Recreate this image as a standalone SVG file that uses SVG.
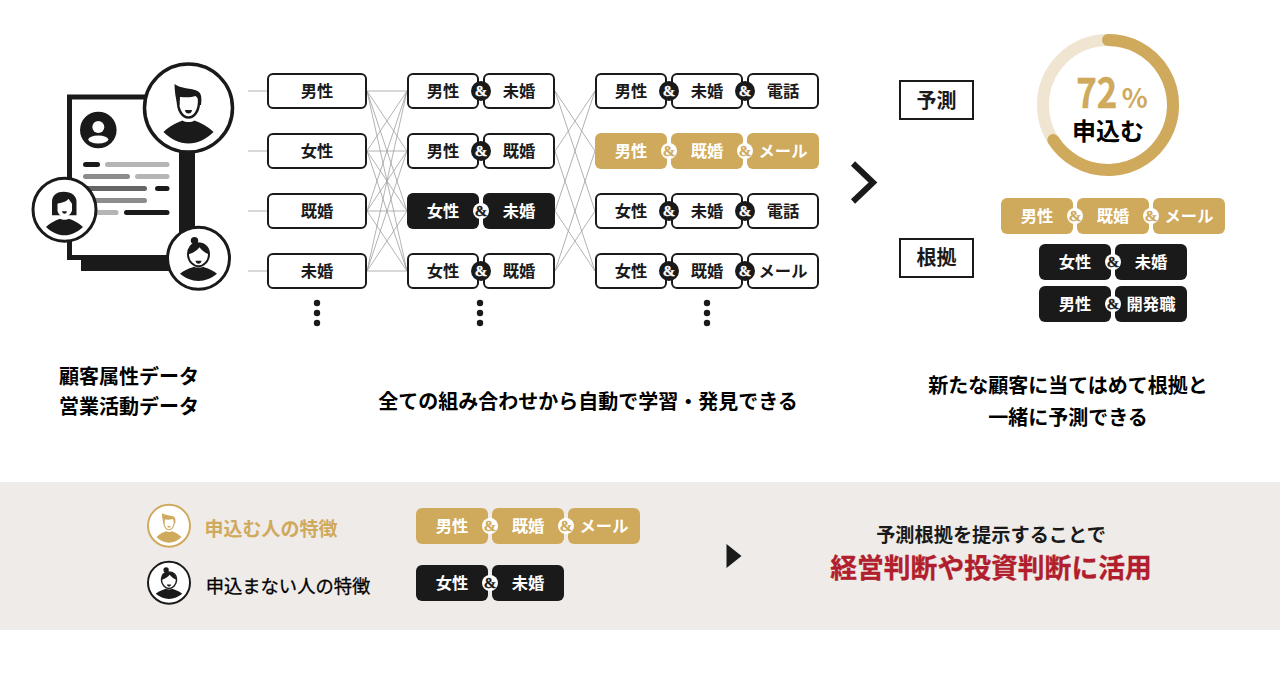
<svg xmlns="http://www.w3.org/2000/svg" width="1280" height="680" viewBox="0 0 1280 680">
<style>
text{font-family:"Noto Sans CJK JP","Noto Sans",sans-serif;font-weight:700;text-anchor:middle;fill:#1a1a1a}
.o{fill:#fff;stroke:#1a1a1a;stroke-width:2}
.k{fill:#1a1a1a}
.g{fill:#cfa95c}
.c{font-size:16.300px}
.w{fill:#fff}
.bd{fill:#1a1a1a}
.bw{fill:#fff}
.a{font-family:"Liberation Serif",serif;font-weight:700;font-size:15px;stroke-width:.3px;transform:translateY(.5px)}
.a.w{stroke:#fff}
.a.gold-t{stroke:#cfa95c}
.a.d{stroke:#1a1a1a}
.l{font-size:20px;fill:#000}
.lk{stroke:#a0a0a0;stroke-width:.8;fill:none}
.gold-t{fill:#cfa95c}
</style>
<defs>
<path id="body" d="M-25 24C-18 17-10 14-6 12.500C-3 14.500 3 14.500 6 12.500C10 14 18 17 25 24C18 31 9 35.500 0 35.500C-9 35.500-18 31-25 24Z"/>
<g id="man">
<path d="M-10.500-10C-11.500 4-5 9.500 0 9.500C5 9.500 11.500 4 10.500-10" fill="#fff" stroke="currentColor" stroke-width="2.400"/>
<path fill="currentColor" d="M-14-24C-8-19 3-20 9-17C13-15 13.500-10 12.500-3L10.500-3C10.500-8 9-11 7-12C2-10-5-11-8.500-11L-9-3L-11-3C-13-10-14-18-14-24Z"/>
<path fill="currentColor" d="M-3.500 2L3.500 2Q3 5.500 0 5.500Q-3 5.500-3.500 2Z"/>
<use href="#body" fill="currentColor"/>
</g>
<g id="bun">
<circle cx="-4" cy="-17.700" r="3.700" fill="currentColor"/>
<path d="M-10.500-4C-10.500 3-5 8 0 8C5 8 10.500 3 10.500-4C10.500-11 6-15-1-15C-7-15-10.500-10-10.500-4Z" fill="#fff" stroke="currentColor" stroke-width="2"/>
<path fill="currentColor" d="M-10-4C-10-11-6-15-1-15C6-15 10-10 10.500-4C7-5 3-8 1-11C-1-8-6-5-10-4Z"/>
<path fill="currentColor" d="M-3 2.500L3 2.500Q2.500 5.500 0 5.500Q-2.500 5.500-3 2.500Z"/>
<g transform="translate(0 0.600) scale(.74 .62)"><use href="#body" fill="currentColor"/></g>
</g>
</defs>

<rect x="0" y="482" width="1280" height="148" fill="#efebe8"/>

<g id="connectors">
<path class="lk" d="M248 91H267M248 151H267M248 211H267M248 271H267"/>
<path class="lk" d="M367 91L407 91M367 91L407 151M367 91L407 211M367 91L407 271M367 151L407 91M367 151L407 151M367 151L407 211M367 151L407 271M367 211L407 91M367 211L407 151M367 211L407 211M367 211L407 271M367 271L407 91M367 271L407 151M367 271L407 211M367 271L407 271"/>
<path class="lk" d="M555 91L595 151M555 91L595 211M555 151L595 91M555 151L595 271M555 211L595 91M555 211L595 271M555 271L595 151M555 271L595 211"/>
</g>

<g id="document">
<rect x="81" y="110" width="114" height="161" class="k"/>
<rect x="69.500" y="97" width="112" height="160.500" fill="#fff" stroke="#1a1a1a" stroke-width="5"/>
<circle cx="98.300" cy="130" r="18.300" class="k"/>
<circle cx="98.300" cy="127" r="6" fill="#fff"/>
<ellipse cx="98.300" cy="139.500" rx="10" ry="4" fill="#fff"/>
<rect x="83" y="162" width="17" height="5" rx="2.500" class="k"/>
<rect x="105" y="162" width="64.500" height="5" rx="2.500" fill="#b5b5b5"/>
<rect x="83" y="174" width="47" height="5" rx="2.500" fill="#8c8c8c"/>
<rect x="135" y="174" width="34.500" height="5" rx="2.500" fill="#b5b5b5"/>
<rect x="83" y="186" width="64" height="5" rx="2.500" fill="#666"/>
<rect x="155" y="186" width="14.500" height="5" rx="2.500" class="k"/>
<rect x="83" y="198" width="64" height="5" rx="2.500" fill="#8c8c8c"/>
<rect x="83" y="210" width="35.500" height="5" rx="2.500" fill="#b5b5b5"/>
<rect x="124" y="210" width="45.500" height="5" rx="2.500" class="k"/>
</g>

<g id="person-man" color="#1a1a1a">
<circle cx="188.500" cy="108" r="44" fill="#fff" stroke="#1a1a1a" stroke-width="3.500"/>
<use href="#man" x="188.500" y="108"/>
</g>
<g id="person-woman" color="#1a1a1a">
<circle cx="64.500" cy="209.700" r="31.500" fill="#fff" stroke="#1a1a1a" stroke-width="3"/>
<g transform="translate(64.500 209.700)">
<path fill="#1a1a1a" d="M-12.500 5.500L-12.500-8C-12.500-15-7-18-1-18C7-18 12-14 12-8L12 5.500Z"/>
<path fill="#fff" d="M-7-6C-3-7 2-8 4-11C6-8 7-7 7.500-6L7.500 1C6 5 3 7 0 7C-3 7-6 5-7 1Z"/>
<path fill="#1a1a1a" d="M-2.500 1.500L2.500 1.500Q2 4 0 4Q-2 4-2.500 1.500Z"/>
<g transform="scale(.74 .72)"><use href="#body" fill="#1a1a1a"/></g>
</g>
</g>
<g id="person-bun" color="#1a1a1a">
<circle cx="198.500" cy="258.300" r="31" fill="#fff" stroke="#1a1a1a" stroke-width="3"/>
<use href="#bun" x="198.500" y="258.300"/>
</g>

<g id="col1">
<g id="a1"><rect x="268" y="74" width="98" height="34" rx="5" class="o"/><text x="317" y="97" class="c">男性</text></g>
<g id="a2"><rect x="268" y="134" width="98" height="34" rx="5" class="o"/><text x="317" y="157" class="c">女性</text></g>
<g id="a3"><rect x="268" y="194" width="98" height="34" rx="5" class="o"/><text x="317" y="217" class="c">既婚</text></g>
<g id="a4"><rect x="268" y="254" width="98" height="34" rx="5" class="o"/><text x="317" y="277" class="c">未婚</text></g>
</g>

<g id="col2">
<g id="b1"><rect x="408" y="74" width="70" height="34" rx="5" class="o"/><rect x="484" y="74" width="70" height="34" rx="5" class="o"/><circle cx="481" cy="91" r="10" class="bd"/><text x="443" y="97" class="c">男性</text><text x="519" y="97" class="c">未婚</text><text x="481" y="95.500" class="a w">&amp;</text></g>
<g id="b2"><rect x="408" y="134" width="70" height="34" rx="5" class="o"/><rect x="484" y="134" width="70" height="34" rx="5" class="o"/><circle cx="481" cy="151" r="10" class="bd"/><text x="443" y="157" class="c">男性</text><text x="519" y="157" class="c">既婚</text><text x="481" y="155.500" class="a w">&amp;</text></g>
<g id="b3"><rect x="407" y="193" width="72" height="36" rx="6" class="k"/><rect x="483" y="193" width="72" height="36" rx="6" class="k"/><circle cx="481" cy="211" r="8" class="bw"/><text x="443" y="217" class="c w">女性</text><text x="519" y="217" class="c w">未婚</text><text x="481" y="215.500" class="a d">&amp;</text></g>
<g id="b4"><rect x="408" y="254" width="70" height="34" rx="5" class="o"/><rect x="484" y="254" width="70" height="34" rx="5" class="o"/><circle cx="481" cy="271" r="10" class="bd"/><text x="443" y="277" class="c">女性</text><text x="519" y="277" class="c">既婚</text><text x="481" y="275.500" class="a w">&amp;</text></g>
</g>

<g id="col3">
<g id="c1"><rect x="596" y="74" width="70" height="34" rx="5" class="o"/><rect x="672" y="74" width="70" height="34" rx="5" class="o"/><rect x="748" y="74" width="70" height="34" rx="5" class="o"/><circle cx="669" cy="91" r="10" class="bd"/><circle cx="745" cy="91" r="10" class="bd"/><text x="631" y="97" class="c">男性</text><text x="707" y="97" class="c">未婚</text><text x="783" y="97" class="c">電話</text><text x="669" y="95.500" class="a w">&amp;</text><text x="745" y="95.500" class="a w">&amp;</text></g>
<g id="c2"><rect x="595" y="133" width="72" height="36" rx="6" class="g"/><rect x="671" y="133" width="72" height="36" rx="6" class="g"/><rect x="747" y="133" width="72" height="36" rx="6" class="g"/><circle cx="669" cy="151" r="8" class="bw"/><circle cx="745" cy="151" r="8" class="bw"/><text x="631" y="157" class="c w">男性</text><text x="707" y="157" class="c w">既婚</text><text x="783" y="157" class="c w">メール</text><text x="669" y="155.500" class="a gold-t">&amp;</text><text x="745" y="155.500" class="a gold-t">&amp;</text></g>
<g id="c3"><rect x="596" y="194" width="70" height="34" rx="5" class="o"/><rect x="672" y="194" width="70" height="34" rx="5" class="o"/><rect x="748" y="194" width="70" height="34" rx="5" class="o"/><circle cx="669" cy="211" r="10" class="bd"/><circle cx="745" cy="211" r="10" class="bd"/><text x="631" y="217" class="c">女性</text><text x="707" y="217" class="c">未婚</text><text x="783" y="217" class="c">電話</text><text x="669" y="215.500" class="a w">&amp;</text><text x="745" y="215.500" class="a w">&amp;</text></g>
<g id="c4"><rect x="596" y="254" width="70" height="34" rx="5" class="o"/><rect x="672" y="254" width="70" height="34" rx="5" class="o"/><rect x="748" y="254" width="70" height="34" rx="5" class="o"/><circle cx="669" cy="271" r="10" class="bd"/><circle cx="745" cy="271" r="10" class="bd"/><text x="631" y="277" class="c">女性</text><text x="707" y="277" class="c">既婚</text><text x="783" y="277" class="c">メール</text><text x="669" y="275.500" class="a w">&amp;</text><text x="745" y="275.500" class="a w">&amp;</text></g>
</g>

<g id="dots" class="k">
<circle cx="317" cy="303" r="3.200"/><circle cx="317" cy="313" r="3.200"/><circle cx="317" cy="323" r="3.200"/>
<circle cx="480" cy="303" r="3.200"/><circle cx="480" cy="313" r="3.200"/><circle cx="480" cy="323" r="3.200"/>
<circle cx="707" cy="303" r="3.200"/><circle cx="707" cy="313" r="3.200"/><circle cx="707" cy="323" r="3.200"/>
</g>

<path id="chevron" d="M853 163.500L873 182.500L853 201.500" fill="none" stroke="#1a1a1a" stroke-width="6"/>

<g id="label-yosoku"><rect x="900" y="81" width="73" height="38" fill="#fff" stroke="#1a1a1a" stroke-width="2"/><text x="936.500" y="108" font-size="20">予測</text></g>
<g id="label-konkyo"><rect x="900" y="239" width="73" height="38" fill="#fff" stroke="#1a1a1a" stroke-width="2"/><text x="936.500" y="265" font-size="20">根拠</text></g>

<g id="donut">
<circle cx="1108" cy="105" r="65" fill="none" stroke="#f0e5d0" stroke-width="12"/>
<path d="M1108 40A65 65 0 1 1 1053.300 140" fill="none" stroke="#cfa95c" stroke-width="12" stroke-linecap="round"/>
<text x="1096.700" y="108" font-size="42" class="gold-t" textLength="41" lengthAdjust="spacingAndGlyphs" stroke="#cfa95c" stroke-width=".5">72</text>
<text x="1134.700" y="108" font-size="27" class="gold-t">%</text>
<text x="1108" y="140" font-size="24" style="fill:#000">申込む</text>
</g>

<g id="r1"><rect x="1001" y="198" width="72" height="36" rx="6" class="g"/><rect x="1077" y="198" width="72" height="36" rx="6" class="g"/><rect x="1153" y="198" width="72" height="36" rx="6" class="g"/><circle cx="1075" cy="216" r="8" class="bw"/><circle cx="1151" cy="216" r="8" class="bw"/><text x="1037" y="222" class="c w">男性</text><text x="1113" y="222" class="c w">既婚</text><text x="1189" y="222" class="c w">メール</text><text x="1075" y="220.500" class="a gold-t">&amp;</text><text x="1151" y="220.500" class="a gold-t">&amp;</text></g>
<g id="r2"><rect x="1039" y="244" width="72" height="36" rx="6" class="k"/><rect x="1115" y="244" width="72" height="36" rx="6" class="k"/><circle cx="1113" cy="262" r="8" class="bw"/><text x="1075" y="268" class="c w">女性</text><text x="1151" y="268" class="c w">未婚</text><text x="1113" y="266.500" class="a d">&amp;</text></g>
<g id="r3"><rect x="1039" y="286" width="72" height="36" rx="6" class="k"/><rect x="1115" y="286" width="72" height="36" rx="6" class="k"/><circle cx="1113" cy="304" r="8" class="bw"/><text x="1075" y="310" class="c w">男性</text><text x="1151" y="310" class="c w">開発職</text><text x="1113" y="308.500" class="a d">&amp;</text></g>

<g id="captions">
<text x="129" y="384" class="l">顧客属性データ</text>
<text x="129" y="414" class="l">営業活動データ</text>
<text x="588" y="409" class="l">全ての組み合わせから自動で学習・発見できる</text>
<text x="1068" y="393" class="l">新たな顧客に当てはめて根拠と</text>
<text x="1068" y="425" class="l">一緒に予測できる</text>
</g>

<g id="icon-apply" color="#cfa95c">
<circle cx="169" cy="525.700" r="21" fill="#fff" stroke="#cfa95c" stroke-width="2"/>
<g transform="translate(169 525) scale(.5)"><use href="#man"/></g>
</g>
<text x="271" y="536" font-size="19" class="gold-t">申込む人の特徴</text>
<g id="icon-noapply" color="#1a1a1a">
<circle cx="169" cy="582.700" r="21" fill="#fff" stroke="#1a1a1a" stroke-width="2"/>
<g transform="translate(169 582.700) scale(.72)"><use href="#bun"/></g>
</g>
<text x="288" y="593" font-size="18.300" style="font-weight:400;fill:#000;stroke:#000;stroke-width:.3">申込まない人の特徴</text>

<g id="s1"><rect x="416" y="508" width="72" height="36" rx="6" class="g"/><rect x="492" y="508" width="72" height="36" rx="6" class="g"/><rect x="568" y="508" width="72" height="36" rx="6" class="g"/><circle cx="490" cy="526" r="8" class="bw"/><circle cx="566" cy="526" r="8" class="bw"/><text x="452" y="532" class="c w">男性</text><text x="528" y="532" class="c w">既婚</text><text x="604" y="532" class="c w">メール</text><text x="490" y="530.500" class="a gold-t">&amp;</text><text x="566" y="530.500" class="a gold-t">&amp;</text></g>
<g id="s2"><rect x="416" y="565" width="72" height="36" rx="6" class="k"/><rect x="492" y="565" width="72" height="36" rx="6" class="k"/><circle cx="490" cy="583" r="8" class="bw"/><text x="452" y="589" class="c w">女性</text><text x="528" y="589" class="c w">未婚</text><text x="490" y="587.500" class="a d">&amp;</text></g>

<polygon id="arrow" points="726.500,544 741.500,556 726.500,568" class="k"/>

<g id="conclusion">
<text x="991" y="542" font-size="19.200">予測根拠を提示することで</text>
<text x="991" y="578" font-size="26.800" style="fill:#b11e2d;stroke:#b11e2d;stroke-width:.3">経営判断や投資判断に活用</text>
</g>
</svg>
